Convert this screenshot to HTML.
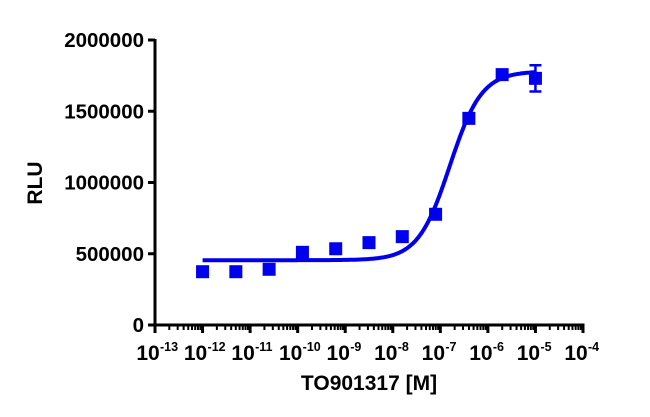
<!DOCTYPE html>
<html><head><meta charset="utf-8"><style>
body{margin:0;background:#fff}
svg{display:block;font-family:"Liberation Sans",Arial,sans-serif;font-weight:bold}
</style></head><body>
<svg id="chart" width="650" height="417" viewBox="0 0 650 417"></svg>
<script>
const xLogs=[-12,-11.3,-10.6,-9.9,-9.2,-8.5,-7.8,-7.1,-6.4,-5.7,-5];
const yVals=[374000,374000,391000,510000,535000,578000,620000,777000,1450000,1757000,1731000];
const yErr=[0,0,0,0,0,0,0,0,0,0,92000];
const yTicks=[0,500000,1000000,1500000,2000000];
const xTicks=[-13,-12,-11,-10,-9,-8,-7,-6,-5,-4];
const fitBottom=455000, fitTop=1780000, fitLogEC50=-6.8, fitHill=1.3;
const NS="http://www.w3.org/2000/svg";
const svg=document.getElementById('chart');
const X0=155,X1=583,Y0=325,Y1=40;
const xs=v=>X0+(v+13)/9*(X1-X0);
const ys=v=>Y0-v/2000000*(Y0-Y1);
function el(t,a,p){const e=document.createElementNS(NS,t);for(const k in a)e.setAttribute(k,a[k]);(p||svg).appendChild(e);return e;}
let ya=el('line',{x1:X0,y1:Y1-1,x2:X0,y2:Y0+1.5,stroke:'#000','stroke-width':3});


let xa=el('line',{x1:X0-1.5,y1:Y0,x2:X1+1.5,y2:Y0,stroke:'#000','stroke-width':3});


yTicks.forEach(v=>{
  el('line',{x1:X0-7,y1:ys(v),x2:X0,y2:ys(v),stroke:'#000','stroke-width':3});
  const t=el('text',{x:X0-11,y:ys(v)+7,'text-anchor':'end','font-size':20.5});
  t.textContent=String(v);
  
  
});
xTicks.forEach((d,i)=>{
  el('line',{x1:xs(d),y1:Y0,x2:xs(d),y2:Y0+8,stroke:'#000','stroke-width':3});
  if(i<xTicks.length-1){for(let m=2;m<=9;m++){const x=xs(d+Math.log10(m));el('line',{x1:x,y1:Y0,x2:x,y2:Y0+5,stroke:'#000','stroke-width':2});}}
  const t=el('text',{x:xs(d)-7,y:Y0+35,'text-anchor':'middle','font-size':21});
  t.textContent='10';
  
  
  const s=el('text',{x:xs(d)+5,y:Y0+26,'text-anchor':'start','font-size':12.5});
  s.textContent=String(d);
  
  
});
const yt=el('text',{x:42,y:183,'text-anchor':'middle','font-size':21,transform:'rotate(-90 42 183)'});
yt.textContent='RLU';


const xt=el('text',{x:369,y:390,'text-anchor':'middle','font-size':21});
xt.textContent='TO901317 [M]';


let d='';
for(let l=-12;l<=-5.0001+0.02;l+=0.02){const v=fitBottom+(fitTop-fitBottom)/(1+Math.pow(10,(fitLogEC50-l)*fitHill));d+=(d?'L':'M')+xs(l).toFixed(1)+','+ys(v).toFixed(1);}
const c=el('path',{d:d,fill:'none',stroke:'#0000ee','stroke-width':4});


xLogs.forEach((l,i)=>{
  const x=xs(l),y=ys(yVals[i]);
  if(yErr[i]>0){
    const e=el('path',{d:`M${x},${ys(yVals[i]-yErr[i])}V${ys(yVals[i]+yErr[i])}M${x-6},${ys(yVals[i]-yErr[i])}H${x+6}M${x-6},${ys(yVals[i]+yErr[i])}H${x+6}`,stroke:'#0000ee','stroke-width':2.5,fill:'none'});
    
    
  }
  const r=el('rect',{x:x-6.5,y:y-6.5,width:13,height:13,fill:'#0000ee'});
  
  
});
</script>
</body></html>
